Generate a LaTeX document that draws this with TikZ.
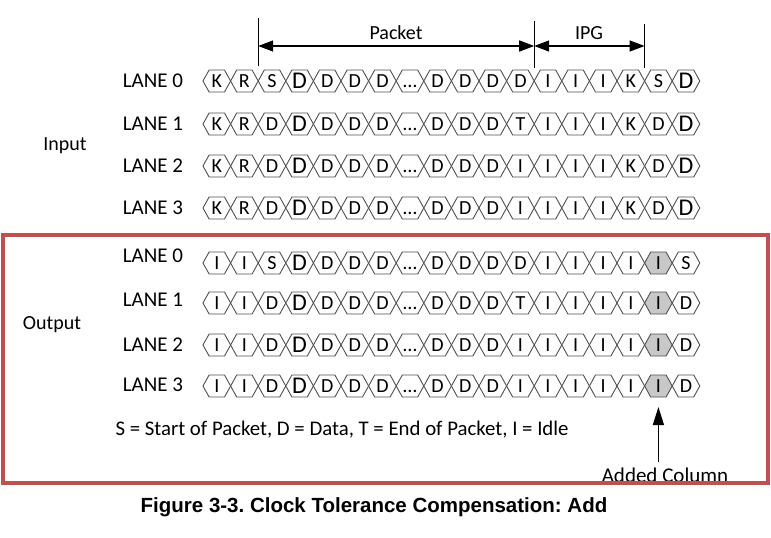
\documentclass[tikz,border=0pt]{standalone}
\usepackage{fontspec}
\setmainfont{Carlito}
\newfontfamily\capfont{Liberation Sans}
\usetikzlibrary{shapes.symbols,arrows.meta}
\definecolor{boxred}{RGB}{192,80,77}
\definecolor{addgray}{RGB}{200,200,200}
\definecolor{hexline}{RGB}{80,80,80}
\frenchspacing

\tikzset{
  sym/.style={signal, signal to=east and west, signal pointer angle=122,
    draw=hexline, line width=0.9pt, fill=white, minimum width=27.6pt,
    minimum height=22pt, inner sep=0pt, outer sep=0pt, text height=13pt,
    text depth=0pt, font=\fontsize{20}{20}\selectfont},
  bigsym/.style={sym, text height=15pt, font=\fontsize{24}{24}\selectfont},
  addsym/.style={sym, fill=addgray},
  lanelbl/.style={font=\fontsize{21}{21}\selectfont},
  span/.style={line width=1.4pt, {Triangle[length=15pt,width=11pt]}-{Triangle[length=15pt,width=11pt]}},
  tick/.style={line width=1.4pt},
}

\begin{document}
\begin{tikzpicture}[x=1pt,y=-1pt]
    \useasboundingbox (0,0) rectangle (771,538);

    % Input lanes
    \foreach \ln/\yy/\cells in {
        0/81/{K,R,S,D,D,D,D,…,D,D,D,D,I,I,I,K,S,D},
        1/124/{K,R,D,D,D,D,D,…,D,D,D,T,I,I,I,K,D,D},
        2/166/{K,R,D,D,D,D,D,…,D,D,D,I,I,I,I,K,D,D},
        3/208/{K,R,D,D,D,D,D,…,D,D,D,I,I,I,I,K,D,D}} {
        \node[lanelbl] (inlbl\ln) at (153,\yy) {LANE \ln};
        \foreach \s [count=\i from 0] in \cells {
            \ifnum\i=3 \def\st{bigsym}\else\ifnum\i=17 \def\st{bigsym}\else\def\st{sym}\fi\fi
            \node[\st] (in\ln-\i) at ({203+27.6*(\i+0.5)},\yy) {\s};
        }
    }
    \node[font=\fontsize{20}{20}\selectfont] (input) at (65,146) {Input};

    % Output lanes
    \foreach \ln/\ly/\yy/\cells in {
        0/256/263/{I,I,S,D,D,D,D,…,D,D,D,D,I,I,I,I,I,S},
        1/300/303/{I,I,D,D,D,D,D,…,D,D,D,T,I,I,I,I,I,D},
        2/345/345/{I,I,D,D,D,D,D,…,D,D,D,I,I,I,I,I,I,D},
        3/385/386/{I,I,D,D,D,D,D,…,D,D,D,I,I,I,I,I,I,D}} {
        \node[lanelbl] (outlbl\ln) at (153,\ly) {LANE \ln};
        \foreach \s [count=\i from 0] in \cells {
            \ifnum\i=3 \def\st{bigsym}\else\ifnum\i=16 \def\st{addsym}\else\def\st{sym}\fi\fi
            \node[\st] (out\ln-\i) at ({203+27.6*(\i+0.5)},\yy) {\s};
        }
    }
    \node[font=\fontsize{20}{20}\selectfont] (output) at (52,325) {Output};

    % Packet / IPG spans
    \draw[tick] (in0-2.west |- 0,18) -- (in0-2.west |- 0,66);
    \draw[tick] (in0-12.west |- 0,21) -- (in0-12.west |- 0,68);
    \draw[tick] (in0-16.west |- 0,24) -- (in0-16.west |- 0,68);
    \draw[span] (in0-2.west |- 0,46) -- (in0-12.west |- 0,46);
    \draw[span] (in0-12.west |- 0,46) -- (in0-16.west |- 0,46);
    \node[font=\fontsize{20}{20}\selectfont] (packet) at (396,33) {Packet};
    \node[font=\fontsize{20}{20}\selectfont] (ipg) at (589,33) {IPG};

    % Legend and added column
    \node[font=\fontsize{20.8}{20.8}\selectfont, anchor=west] (legend) at (112,430)
        {S = Start of Packet, D = Data, T = End of Packet, I = Idle};
    \node[font=\fontsize{21}{21}\selectfont, anchor=base] (added) at (665,482) {Added Column};
    \draw[line width=1.4pt, -{Triangle[length=18pt,width=11pt]}]
        (out3-16.south |- 0,462) -- ([yshift=-10pt]out3-16.south);

    % Output frame
    \draw[boxred, line width=3.5pt] (3,235) rectangle (768,483);

    % Caption
    \node[font=\capfont\bfseries\fontsize{20.5}{20.5}\selectfont] (caption) at (374,507)
        {Figure 3-3. Clock Tolerance Compensation: Add};
\end{tikzpicture}
\end{document}
